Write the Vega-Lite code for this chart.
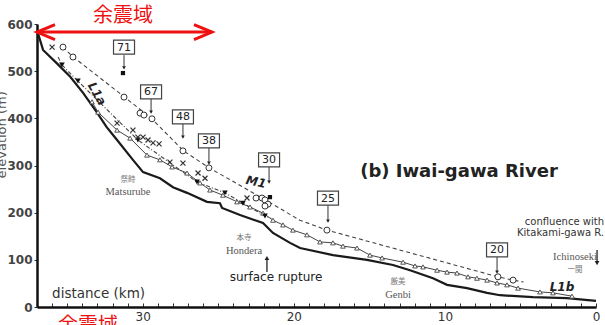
{
 "$schema": "https://vega.github.io/schema/vega-lite/v6.json",
 "width": 559, "height": 283,
 "autosize": {"type": "none"},
 "padding": {"left": 37, "top": 24, "right": 9, "bottom": 18},
 "background": "white",
 "config": {"view": {"stroke": null}},
 "datasets": {
  "bed": [{"d":37,"e":587},{"d":36.6,"e":545},{"d":35.7,"e":517},{"d":34.8,"e":488},{"d":33.95,"e":454},{"d":33.0,"e":411},{"d":32.4,"e":382},{"d":31.7,"e":354},{"d":30.65,"e":312},{"d":29.98,"e":286},{"d":28.86,"e":273},{"d":28.0,"e":254},{"d":27.07,"e":242},{"d":25.75,"e":223},{"d":24.89,"e":220},{"d":24.75,"e":210},{"d":23.56,"e":195},{"d":22.04,"e":178},{"d":21.38,"e":157},{"d":20.25,"e":136},{"d":19.59,"e":125},{"d":17.41,"e":110},{"d":15.16,"e":100},{"d":13.44,"e":89},{"d":12.31,"e":78},{"d":10.79,"e":61},{"d":9.86,"e":47},{"d":8.54,"e":40},{"d":7.21,"e":30},{"d":6.35,"e":25},{"d":4.17,"e":21},{"d":1.92,"e":19},{"d":0,"e":13}],
  "m1line": [{"d":35.3,"e":551},{"d":34.6,"e":530},{"d":31.2,"e":445},{"d":29.4,"e":399},{"d":27.3,"e":331},{"d":25.6,"e":295},{"d":22.1,"e":231},{"d":19.6,"e":184},{"d":17.8,"e":163},{"d":6.5,"e":64},{"d":5.5,"e":57},{"d":4.8,"e":53}],
  "m1pts": [{"d":35.28,"e":551},{"d":34.62,"e":530},{"d":31.24,"e":445},{"d":30.18,"e":411},{"d":29.92,"e":407},{"d":29.39,"e":399},{"d":27.34,"e":331},{"d":25.62,"e":295},{"d":22.5,"e":231},{"d":22.11,"e":231},{"d":21.91,"e":227},{"d":21.71,"e":218},{"d":21.91,"e":214},{"d":17.81,"e":163},{"d":6.49,"e":64},{"d":5.49,"e":57}],
  "l1a": [{"d":35.6,"e":530},{"d":35.35,"e":513},{"d":34.29,"e":479},{"d":30.32,"e":354},{"d":26.41,"e":265},{"d":24.56,"e":242},{"d":23.37,"e":220},{"d":21.91,"e":193},{"d":21.5,"e":188}],
  "l1apts": [{"d":35.35,"e":513},{"d":34.29,"e":479},{"d":30.32,"e":354},{"d":26.41,"e":265},{"d":24.56,"e":242},{"d":23.37,"e":220},{"d":21.91,"e":193}],
  "l1": [{"d":33.36,"e":435},{"d":32.96,"e":413},{"d":31.7,"e":375},{"d":30.84,"e":358},{"d":29.72,"e":322},{"d":28.86,"e":312},{"d":28.06,"e":297},{"d":27.07,"e":284},{"d":26.21,"e":263},{"d":25.55,"e":248},{"d":24.69,"e":237},{"d":23.76,"e":223},{"d":22.9,"e":212},{"d":22.04,"e":199},{"d":21.38,"e":184},{"d":20.72,"e":174},{"d":20.06,"e":163},{"d":19.13,"e":153},{"d":18.27,"e":138},{"d":17.41,"e":136},{"d":16.75,"e":129},{"d":15.82,"e":125},{"d":14.96,"e":110},{"d":14.16,"e":104},{"d":12.77,"e":95},{"d":11.98,"e":87},{"d":11.45,"e":85},{"d":10.52,"e":78},{"d":9.86,"e":74},{"d":9.2,"e":72},{"d":8.47,"e":64},{"d":7.88,"e":61},{"d":7.21,"e":57},{"d":6.55,"e":51},{"d":5.89,"e":47},{"d":5.16,"e":40},{"d":3.71,"e":32},{"d":2.85,"e":30},{"d":1.59,"e":23}],
  "xmarks": [{"d":36.0,"e":551},{"d":31.7,"e":390},{"d":30.65,"e":375},{"d":30.32,"e":360},{"d":29.98,"e":360},{"d":29.65,"e":354},{"d":29.32,"e":348},{"d":28.92,"e":346},{"d":28.2,"e":307},{"d":27.34,"e":305},{"d":26.34,"e":284},{"d":25.88,"e":273},{"d":23.1,"e":231}],
  "squares": [{"d":31.31,"e":496},{"d":21.58,"e":233}],
  "boxes": [{"d":31.24,"e":551,"e1":534,"e2":507,"t":"71"},{"d":29.45,"e":456,"e1":441,"e2":413,"t":"67"},{"d":27.34,"e":403,"e1":388,"e2":360,"t":"48"},{"d":25.62,"e":352,"e1":337,"e2":305,"t":"38"},{"d":21.64,"e":312,"e1":297,"e2":265,"t":"30"},{"d":17.74,"e":231,"e1":216,"e2":182,"t":"25"},{"d":6.55,"e":121,"e1":106,"e2":74,"t":"20"}],
  "redarrow": [{"d":37,"d2":25.42,"e":583}],
  "redleft": [{"d":37,"e":583}],
  "redright": [{"d":25.42,"e":583}],
  "redtext": [{"d":31.3,"e":617,"t":"余震域"},{"d":33.62,"e":-40,"t":"余震域"}],
  "title": [{"d":9.07,"e":286,"t":"(b) Iwai-gawa River"}],
  "romannames": [{"d":30.98,"e":244,"t":"Matsurube"},{"d":23.3,"e":119,"t":"Hondera"},{"d":13.1,"e":25,"t":"Genbi"},{"d":1.39,"e":106,"t":"Ichinoseki"}],
  "jpnames": [{"d":30.98,"e":269,"t":"祭畤"},{"d":23.3,"e":146,"t":"本寺"},{"d":13.1,"e":53,"t":"厳美"},{"d":1.39,"e":78,"t":"一関"}],
  "confl": [{"d":-0.53,"e":180,"t":"confluence with"},{"d":-0.53,"e":157,"t":"Kitakami-gawa R."}],
  "rupture": [{"d":21.18,"e":64,"t":"surface rupture"}],
  "distlabel": [{"d":36.0,"e":28,"t":"distance (km)"}],
  "uparrow": [{"d":21.78,"e":74,"e2":104}],
  "downarrow": [{"d":-0.07,"e":121,"e2":93}],
  "l1alabel": [{"d":33.03,"e":452,"t":"L1a"}],
  "m1label": [{"d":22.5,"e":265,"t":"M1"}],
  "l1blabel": [{"d":2.25,"e":42,"t":"L1b"}],
  "ytitle": [{"d":39.3,"e":365,"t":"elevation (m)"}]
 },
 "encoding": {
  "x": {"field": "d", "type": "quantitative",
   "scale": {"domain": [0, 37], "reverse": true, "nice": false, "zero": false},
   "axis": {"values": [0,1,2,3,4,5,6,7,8,9,10,11,12,13,14,15,16,17,18,19,20,21,22,23,24,25,26,27,28,29,30,31,32,33,34,35,36,37],
    "labelExpr": "datum.value % 10 === 0 ? datum.label : ''", "title": null, "grid": false,
    "domainColor": "#111", "domainWidth": 2.5, "tickColor": "#333", "tickSize": -4, "tickWidth": 1,
    "labelFont": "DejaVu Sans", "labelFontSize": 12, "labelColor": "#333", "labelPadding": 8,
    "labelFlush": false, "labelOverlap": false}},
  "y": {"field": "e", "type": "quantitative",
   "scale": {"domain": [0, 600], "nice": false, "zero": false},
   "axis": {"values": [0,100,200,300,400,500,600], "title": null, "grid": false,
    "domainColor": "#111", "domainWidth": 2.5, "tickColor": "#333", "tickSize": 3, "tickWidth": 1,
    "labelFont": "DejaVu Sans", "labelFontSize": 12, "labelFontWeight": "bold", "labelColor": "#444", "labelPadding": 2}}
 },
 "layer": [
  {"data": {"name": "bed"}, "mark": {"type": "line", "color": "#1a1a1a", "strokeWidth": 2.2, "clip": false}},
  {"data": {"name": "m1line"}, "mark": {"type": "line", "color": "#444", "strokeWidth": 1.1, "strokeDash": [4, 3]}},
  {"data": {"name": "l1a"}, "mark": {"type": "line", "color": "#444", "strokeWidth": 1.1, "strokeDash": [4, 2, 1, 2]}},
  {"data": {"name": "l1"}, "mark": {"type": "line", "color": "#444", "strokeWidth": 1}},
  {"data": {"name": "m1pts"}, "mark": {"type": "point", "shape": "circle", "size": 36, "filled": true, "fill": "white", "stroke": "#333", "strokeWidth": 1, "opacity": 1}},
  {"data": {"name": "l1"}, "mark": {"type": "point", "shape": "triangle-up", "size": 22, "filled": true, "fill": "white", "stroke": "#444", "strokeWidth": 0.9, "opacity": 1}},
  {"data": {"name": "l1apts"}, "mark": {"type": "point", "shape": "triangle-down", "size": 32, "filled": true, "color": "#111", "opacity": 1}},
  {"data": {"name": "xmarks"}, "mark": {"type": "point", "shape": "M-1,-1L1,1M1,-1L-1,1", "size": 25, "filled": false, "stroke": "#333", "strokeWidth": 1.2, "opacity": 1}},
  {"data": {"name": "squares"}, "mark": {"type": "point", "shape": "square", "size": 18, "filled": true, "color": "#111", "opacity": 1}},
  {"data": {"name": "boxes"}, "mark": {"type": "rule", "color": "#333", "strokeWidth": 1},
   "encoding": {"y": {"field": "e1", "type": "quantitative"}, "y2": {"field": "e2"}}},
  {"data": {"name": "boxes"}, "mark": {"type": "point", "shape": "triangle-down", "size": 14, "filled": true, "color": "#222", "opacity": 1},
   "encoding": {"y": {"field": "e2", "type": "quantitative"}}},
  {"data": {"name": "boxes"}, "mark": {"type": "point", "shape": "M-1.5,-1H1.5V1H-1.5Z", "size": 196, "filled": true, "fill": "white", "stroke": "#444", "strokeWidth": 1.2, "opacity": 1}},
  {"data": {"name": "boxes"}, "mark": {"type": "text", "font": "DejaVu Sans", "fontSize": 11, "color": "#222", "align": "center", "baseline": "middle", "dy": 0.5},
   "encoding": {"text": {"field": "t"}}},
  {"data": {"name": "redarrow"}, "mark": {"type": "rule", "color": "#ee1111", "strokeWidth": 3, "clip": false},
   "encoding": {"x2": {"field": "d2"}}},
  {"data": {"name": "redleft"}, "mark": {"type": "point", "shape": "M3.6,-1.5L0,0L3.6,1.5", "size": 100, "filled": false, "stroke": "#ee1111", "strokeWidth": 3, "opacity": 1, "clip": false}},
  {"data": {"name": "redright"}, "mark": {"type": "point", "shape": "M-3.6,-1.5L0,0L-3.6,1.5", "size": 100, "filled": false, "stroke": "#ee1111", "strokeWidth": 3, "opacity": 1, "clip": false}},
  {"data": {"name": "redtext"}, "mark": {"type": "text", "font": "Noto Sans CJK JP", "fontSize": 20, "color": "#ee1111", "align": "center", "baseline": "middle", "clip": false},
   "encoding": {"text": {"field": "t"}}},
  {"data": {"name": "title"}, "mark": {"type": "text", "font": "DejaVu Sans", "fontSize": 18, "fontWeight": "bold", "color": "#222", "align": "center", "baseline": "middle"},
   "encoding": {"text": {"field": "t"}}},
  {"data": {"name": "romannames"}, "mark": {"type": "text", "font": "Liberation Serif", "fontSize": 10.5, "color": "#555", "align": "center", "baseline": "middle"},
   "encoding": {"text": {"field": "t"}}},
  {"data": {"name": "jpnames"}, "mark": {"type": "text", "font": "Noto Sans CJK JP", "fontSize": 7.5, "color": "#777", "align": "center", "baseline": "middle"},
   "encoding": {"text": {"field": "t"}}},
  {"data": {"name": "confl"}, "mark": {"type": "text", "font": "DejaVu Sans", "fontSize": 10, "color": "#333", "align": "right", "baseline": "middle", "clip": false},
   "encoding": {"text": {"field": "t"}}},
  {"data": {"name": "rupture"}, "mark": {"type": "text", "font": "DejaVu Sans", "fontSize": 12, "color": "#222", "align": "center", "baseline": "middle"},
   "encoding": {"text": {"field": "t"}}},
  {"data": {"name": "distlabel"}, "mark": {"type": "text", "font": "DejaVu Sans", "fontSize": 13.5, "color": "#333", "align": "left", "baseline": "middle"},
   "encoding": {"text": {"field": "t"}}},
  {"data": {"name": "uparrow"}, "mark": {"type": "rule", "color": "#222", "strokeWidth": 1.3},
   "encoding": {"y2": {"field": "e2"}}},
  {"data": {"name": "uparrow"}, "mark": {"type": "point", "shape": "triangle-up", "size": 22, "filled": true, "color": "#222", "opacity": 1},
   "encoding": {"y": {"field": "e2", "type": "quantitative"}}},
  {"data": {"name": "downarrow"}, "mark": {"type": "rule", "color": "#222", "strokeWidth": 1.3, "clip": false},
   "encoding": {"y2": {"field": "e2"}}},
  {"data": {"name": "downarrow"}, "mark": {"type": "point", "shape": "triangle-down", "size": 22, "filled": true, "color": "#222", "opacity": 1, "clip": false},
   "encoding": {"y": {"field": "e2", "type": "quantitative"}}},
  {"data": {"name": "l1alabel"}, "mark": {"type": "text", "font": "DejaVu Sans", "fontSize": 12, "fontWeight": "bold", "fontStyle": "italic", "color": "#222", "align": "center", "baseline": "middle", "angle": 60},
   "encoding": {"text": {"field": "t"}}},
  {"data": {"name": "m1label"}, "mark": {"type": "text", "font": "DejaVu Sans", "fontSize": 12, "fontWeight": "bold", "fontStyle": "italic", "color": "#222", "align": "center", "baseline": "middle", "angle": 12},
   "encoding": {"text": {"field": "t"}}},
  {"data": {"name": "l1blabel"}, "mark": {"type": "text", "font": "DejaVu Sans", "fontSize": 12, "fontWeight": "bold", "fontStyle": "italic", "color": "#222", "align": "center", "baseline": "middle"},
   "encoding": {"text": {"field": "t"}}},
  {"data": {"name": "ytitle"}, "mark": {"type": "text", "font": "DejaVu Sans", "fontSize": 13, "color": "#555", "align": "center", "baseline": "middle", "angle": 270, "clip": false},
   "encoding": {"text": {"field": "t"}}}
 ]
}
